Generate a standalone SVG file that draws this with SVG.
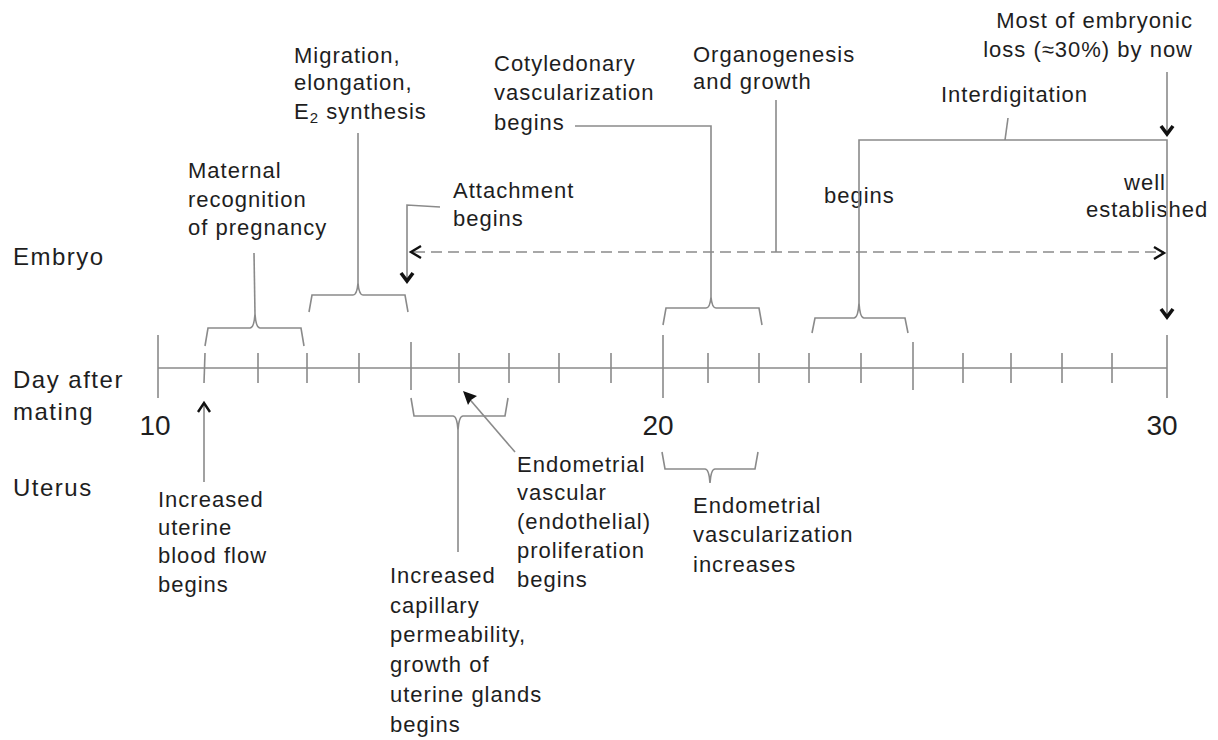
<svg xmlns="http://www.w3.org/2000/svg" width="1218" height="740" viewBox="0 0 1218 740">
<style>
text{font-family:"Liberation Sans",Arial,sans-serif;fill:#1e1e1e}
.lab{font-size:24px;letter-spacing:1.5px}
.ann{font-size:22px;letter-spacing:1px}
.num{font-size:28px}
.ln{fill:none;stroke:#8a8a8a;stroke-width:1.6}
.dash{fill:none;stroke:#8a8a8a;stroke-width:1.6;stroke-dasharray:11 6}
.chev{fill:none;stroke:#111;stroke-width:2.4;stroke-linejoin:miter}
.bold{stroke-width:3.6}
.tick{stroke:#8a8a8a;stroke-width:1.6}
</style>
<rect width="1218" height="740" fill="#fff"/>
<g id="side-labels">
<text class="lab" x="13" y="265">Embryo</text>
<text class="lab" x="13" y="388">Day after</text>
<text class="lab" x="13" y="420">mating</text>
<text class="lab" x="13" y="496">Uterus</text>
</g>
<g id="axis">
<path class="ln" d="M158,368 L1167,368"/>
<g class="tick">
<line x1="158" y1="335" x2="158" y2="398"/>
<line x1="205" y1="353" x2="204" y2="383"/>
<line x1="258" y1="353" x2="258" y2="383"/>
<line x1="307" y1="353" x2="307" y2="383"/>
<line x1="359" y1="353" x2="359" y2="383"/>
<line x1="411" y1="342" x2="411" y2="390"/>
<line x1="459" y1="353" x2="459" y2="383"/>
<line x1="509" y1="353" x2="509" y2="383"/>
<line x1="559" y1="353" x2="559" y2="383"/>
<line x1="611" y1="353" x2="611" y2="383"/>
<line x1="663" y1="335" x2="663" y2="398"/>
<line x1="708" y1="353" x2="708" y2="383"/>
<line x1="759" y1="353" x2="759" y2="383"/>
<line x1="809" y1="353" x2="809" y2="383"/>
<line x1="861" y1="353" x2="861" y2="383"/>
<line x1="913" y1="342" x2="913" y2="390"/>
<line x1="963" y1="353" x2="963" y2="383"/>
<line x1="1011" y1="353" x2="1011" y2="383"/>
<line x1="1062" y1="353" x2="1062" y2="383"/>
<line x1="1112" y1="353" x2="1112" y2="383"/>
<line x1="1167" y1="335" x2="1167" y2="398"/>
</g>
<text class="num" x="155" y="435" text-anchor="middle">10</text>
<text class="num" x="658" y="435" text-anchor="middle">20</text>
<text class="num" x="1162" y="435" text-anchor="middle">30</text>
</g>
<g id="maternal-recognition">
<text class="ann" x="188" y="178">Maternal</text>
<text class="ann" x="188" y="207">recognition</text>
<text class="ann" x="188" y="235">of pregnancy</text>
<path class="ln" d="M205,346 L208,328 L250,328 Q254,328 255,314 Q256,328 260,328 L301,328 L304,346"/>
</g>
<g id="migration">
<text class="ann" x="294" y="63">Migration,</text>
<text class="ann" x="294" y="90">elongation,</text>
<text class="ann" x="294" y="119">E<tspan font-size="15" dy="4">2</tspan><tspan dy="-4"> synthesis</tspan></text>
<path class="ln" d="M309,312 L312,295 L353,295 Q357,295 358,283 Q359,295 363,295 L405,295 L408,312"/>
</g>
<g id="attachment">
<text class="ann" x="453" y="198">Attachment</text>
<text class="ann" x="453" y="226">begins</text>
</g>
<g id="cotyledonary">
<text class="ann" x="494" y="71">Cotyledonary</text>
<text class="ann" x="494" y="100">vascularization</text>
<text class="ann" x="494" y="130">begins</text>
<path class="ln" d="M663,325 L666,308 L706,308 Q710,308 711,297 Q712,308 716,308 L759,308 L762,325"/>
</g>
<g id="organogenesis">
<text class="ann" x="693" y="62">Organogenesis</text>
<text class="ann" x="693" y="89">and growth</text>
</g>
<g id="embryonic-loss">
<text class="ann" x="1193" y="28" text-anchor="end">Most of embryonic</text>
<text class="ann" x="1193" y="57" text-anchor="end">loss (≈30%) by now</text>
</g>
<g id="interdigitation">
<text class="ann" x="941" y="102">Interdigitation</text>
<text class="ann" x="824" y="203">begins</text>
<text class="ann" x="1166" y="190" text-anchor="end">well</text>
<text class="ann" x="1086" y="217">established</text>
<path class="ln" d="M812,333 L815,318 L854,318 Q858,318 859,303 Q860,318 864,318 L905,318 L908,333"/>
</g>
<g id="uterine-blood-flow">
<text class="ann" x="158" y="507">Increased</text>
<text class="ann" x="158" y="535">uterine</text>
<text class="ann" x="158" y="563">blood flow</text>
<text class="ann" x="158" y="592">begins</text>
</g>
<g id="capillary-permeability">
<text class="ann" x="390" y="583">Increased</text>
<text class="ann" x="390" y="613">capillary</text>
<text class="ann" x="390" y="642">permeability,</text>
<text class="ann" x="390" y="672">growth of</text>
<text class="ann" x="390" y="702">uterine glands</text>
<text class="ann" x="390" y="732">begins</text>
<path class="ln" d="M411,398 L414,416 L453,416 Q457,416 458,430 Q459,416 463,416 L505,416 L508,398"/>
</g>
<g id="endometrial-proliferation">
<text class="ann" x="517" y="472">Endometrial</text>
<text class="ann" x="517" y="500">vascular</text>
<text class="ann" x="517" y="529">(endothelial)</text>
<text class="ann" x="517" y="558">proliferation</text>
<text class="ann" x="517" y="587">begins</text>
</g>
<g id="endometrial-vascularization">
<text class="ann" x="693" y="513">Endometrial</text>
<text class="ann" x="693" y="542">vascularization</text>
<text class="ann" x="693" y="572">increases</text>
<path class="ln" d="M662,452 L665,469 L705,469 Q709,469 710,483 Q711,469 715,469 L755,469 L758,452"/>
</g>
<g id="connectors">
<path class="ln" d="M254,253 L255,314"/>
<path class="ln" d="M358,133 L358,283"/>
<path class="ln" d="M440,207 L407,205 L407,279"/>
<path class="chev bold" d="M401,273 L407,281 L413,273"/>
<path class="ln" d="M575,126 L711,126 L711,297"/>
<path class="ln" d="M776,100 L776,252"/>
<path class="dash" d="M414,252 L1164,252"/>
<path class="chev" d="M421,246 L411,252 L421,258"/>
<path class="chev" d="M1154,247 L1164,253 L1154,259"/>
<path class="ln" d="M1167,72 L1167,133"/>
<path class="chev bold" d="M1161,126 L1167,134 L1173,126"/>
<path class="ln" d="M859,303 L859,140 L1167,140 L1167,315"/>
<path class="ln" d="M1005,140 L1008,118"/>
<path class="chev bold" d="M1161,309 L1167,317 L1173,309"/>
<path class="ln" d="M204,482 L204,405"/>
<path class="chev" d="M198,412 L204,403 L210,412"/>
<path class="ln" d="M458,430 L458,552"/>
<path class="ln" d="M515,452 L466,395"/>
<path d="M463,391 L477,396 L471,400 L468,405 Z" fill="#111"/>
</g>
</svg>
